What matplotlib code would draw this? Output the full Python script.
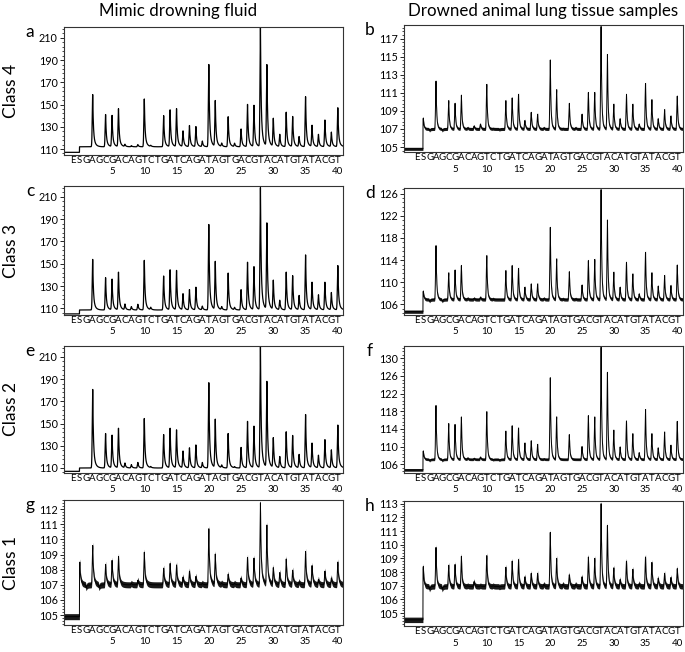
import numpy as np
import matplotlib.pyplot as plt
from matplotlib.ticker import MultipleLocator, AutoMinorLocator

plt.rcParams['font.family'] = ['Lato', 'DejaVu Sans']

# dispensation order (E = enzyme, S = substrate, then 40 nucleotides)
letters = list("ESGAGCGACAGTCTGATCAGATAGTGACGTACATGTATACGT")
number_marks = [5, 10, 15, 20, 25, 30, 35, 40]

col_titles = ["Mimic drowning fluid", "Drowned animal lung tissue samples"]
row_labels = ["Class 4", "Class 3", "Class 2", "Class 1"]
panel_letters = ["a", "b", "c", "d", "e", "f", "g", "h"]

# peak signal at each of the 40 dispensations
peaks_a = [112, 159, 112, 141, 140, 146, 114, 113, 114, 155, 113, 112, 140, 145, 146, 126, 131, 130, 117, 186,
           153, 115, 139, 115, 128, 150, 149, 220, 185, 137, 123, 143, 139, 121, 157, 131, 123, 136, 125, 147]
peaks_b = [107, 112.46, 107, 110.3, 110.0, 110.9, 107.3, 107.5, 107.7, 112.1, 107.2, 107.1, 110.3, 110.6, 111.0,
           108.1, 109.0, 108.8, 107.3, 114.8, 111.5, 107.2, 110.0, 107.3, 108.8, 111.2, 111.2, 118.5, 115.4, 109.9,
           108.3, 111.0, 109.9, 107.7, 112.2, 110.4, 108.3, 109.3, 108.6, 110.8]
peaks_c = [108.5, 153.9, 108.5, 137.5, 136, 142.2, 113.6, 111.5, 113.6, 153, 110.6, 108.5, 139, 144.3, 143.7,
           122.8, 126.7, 128.8, 111.8, 185.2, 151.5, 111.2, 141.6, 110.6, 126.7, 151.2, 147, 218, 185.7, 134.6,
           117, 142.4, 139, 121.3, 157.8, 133, 121.9, 133.3, 124, 148.2]
peaks_d = [106.9, 116.9, 106.9, 112.0, 112.5, 113.3, 107.4, 107.4, 107.6, 115.1, 107.3, 107.2, 112.4, 113.3, 112.8,
           109.4, 110.0, 110.0, 107.4, 120.2, 114.5, 107.3, 112.2, 107.3, 109.8, 114.2, 114.4, 127, 121.5, 112.1,
           109.4, 113.9, 111.8, 108.2, 115.7, 112.0, 109.6, 111.5, 109.7, 113.4]
peaks_e = [110, 180.7, 110, 141, 139.3, 145.5, 114.2, 113, 115, 154.5, 111, 110, 140.1, 145.5, 144, 125, 128, 130.6,
           114.8, 186.7, 153.3, 112.4, 141, 111, 128.5, 151.8, 147.3, 220, 187, 136.6, 120.1, 142.5, 139, 122, 158,
           132, 121.3, 135.4, 126.1, 148.5]
peaks_f = [107.1, 119.6, 107.1, 115.5, 115.3, 117.0, 107.7, 107.6, 107.9, 118.2, 107.3, 107.2, 113.8, 115.0, 114.5,
           111.1, 111.6, 110.8, 107.5, 125.9, 117.0, 107.4, 113.0, 107.4, 110.3, 117.3, 117.0, 132.8, 127.1, 114.0,
           110.2, 116.1, 113.2, 108.9, 118.7, 113.2, 110.0, 113.6, 110.6, 116.0]
peaks_g = [107, 109.8, 107, 108.55, 108.8, 109.05, 107.2, 107.3, 107.5, 109.35, 107.2, 107.2, 108.3, 108.6, 108.5,
           107.7, 108.1, 107.75, 107.3, 110.9, 109.2, 107.3, 107.9, 107.3, 107.65, 109.0, 108.95, 112.6, 111.1, 108.3,
           108.0, 108.9, 108.15, 107.4, 109.4, 108.45, 107.55, 108.1, 107.65, 108.7]
peaks_h = [106.95, 110.0, 106.95, 108.7, 108.75, 109.35, 107.2, 107.5, 107.2, 109.4, 107.2, 107.1, 108.55, 109.0,
           109.1, 107.85, 108.1, 108.1, 107.3, 111.1, 109.2, 107.3, 108.0, 107.3, 107.85, 109.3, 109.2, 113.2, 111.6,
           108.5, 107.65, 109.0, 108.4, 107.35, 109.3, 108.9, 107.75, 108.1, 107.8, 108.45]

# baseline before / after substrate, and the spike at S
pre_base = [107, 104.8, 105, 104.7, 107, 104.7, 104.9, 104.5]
post_base = [112, 107, 108.5, 106.9, 110, 107.1, 107, 106.95]
s_spike = [112, 108.2, 108.5, 108.4, 110, 109.0, 108.5, 108.4]
noise = [0, 0.17, 0, 0.3, 0, 0.3, 0.2, 0.2]

all_peaks = [peaks_a, peaks_b, peaks_c, peaks_d, peaks_e, peaks_f, peaks_g, peaks_h]

# axis settings
ylims = [(104.6, 219.8), (104.45, 118.5), (104, 219.8), (104.1, 127),
         (105.5, 219.8), (104, 132.8), (104.35, 112.6), (104.05, 113.2)]
ysteps = [20, 2, 20, 4, 20, 4, 1, 1]
yfirst = [110, 105, 110, 106, 110, 106, 105, 105]

W, H = 685, 652
fig = plt.figure(figsize=(W / 100, H / 100), dpi=100)

rows_left = [(27, 155), (186, 315), (346, 473), (500, 625)]
rows_right = [(25, 152), (188, 315), (346, 473), (501, 626)]
xl_left, xr_left = 64, 343
xl_right, xr_right = 404, 683


def kernel(dx, tail_w, tail_len):
    out = np.zeros_like(dx)
    left = dx < 0
    out[left] = np.exp(-0.5 * (dx[left] / 0.07) ** 2)
    r = ~left
    out[r] = (1 - tail_w) * np.exp(-dx[r] / 0.1) + tail_w * np.exp(-dx[r] / tail_len)
    return out


for i in range(8):
    col = i % 2
    row = i // 2
    if col == 0:
        top, bot = rows_left[row]
        x0, x1 = xl_left, xr_left
        xlim = (-1.45, 41.8)
        tw, tl = 0.25, 0.3
    else:
        top, bot = rows_right[row]
        x0, x1 = xl_right, xr_right
        xlim = (-2.04, 41.9)
        tw, tl = 0.12, 0.22
    ax = fig.add_axes([x0 / W, 1 - bot / H, (x1 - x0) / W, (bot - top) / H])

    x = np.round(np.arange(xlim[0], xlim[1] + 0.005, 0.01), 2)
    base = np.where(x < 0.95, pre_base[i], post_base[i])
    y = base.copy()
    y = y + (s_spike[i] - post_base[i]) * kernel(x - 1, tw, tl) * (x >= 0.95)
    for k, h in enumerate(all_peaks[i], start=1):
        y = y + (h - post_base[i] - noise[i]) * kernel(x - (k + 1), tw, tl)

    if noise[i] > 0:
        ax.fill_between(x, y - noise[i], y + noise[i], color='#1a1a1a', lw=0)
        ax.plot(x, y, color='black', lw=0.7)
    else:
        ax.plot(x, y, color='black', lw=0.9)

    ax.set_xlim(*xlim)
    ax.set_ylim(*ylims[i])
    ax.set_xticks(range(len(letters)))
    ax.set_xticklabels(letters, fontsize=7.0)
    ax.tick_params(axis='x', length=0, pad=0.4)
    for n in number_marks:
        ax.annotate(str(n), xy=(n + 1, 0), xycoords=('data', 'axes fraction'),
                    xytext=(0, -9.0), textcoords='offset points',
                    ha='center', va='top', fontsize=7.0)

    ax.yaxis.set_major_locator(MultipleLocator(ysteps[i]))
    ax.set_yticks(np.arange(yfirst[i], ylims[i][1], ysteps[i]))
    ax.yaxis.set_minor_locator(AutoMinorLocator(5))
    ax.tick_params(axis='y', labelsize=7.8, length=3, width=0.6, pad=1.5)
    ax.tick_params(axis='y', which='minor', length=1.5, width=0.5)
    for s in ax.spines.values():
        s.set_linewidth(0.8)
        s.set_color('#333333')

    # panel letter
    fig.text((x0 - 34) / W, 1 - (top + 5) / H, panel_letters[i], fontsize=12.5, ha='center', va='center')

fig.text(178 / W, 1 - 11 / H, col_titles[0], fontsize=12.2, ha='center', va='center')
fig.text(543 / W, 1 - 11 / H, col_titles[1], fontsize=12.2, ha='center', va='center')
for r, lab in enumerate(row_labels):
    t, b = rows_left[r]
    fig.text(11 / W, 1 - (t + b) / 2 / H, lab, fontsize=12.5, rotation=90, ha='center', va='center')

fig.savefig('out.png', dpi=100)
